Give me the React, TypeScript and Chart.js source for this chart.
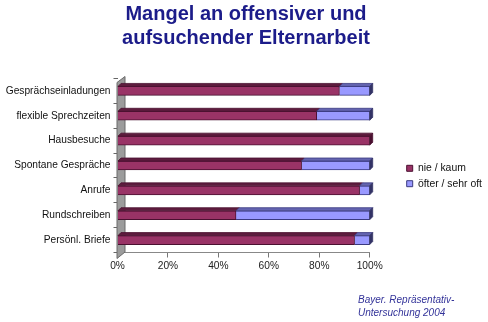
import React, { useEffect, useRef } from "react";
import { Chart, registerables } from "chart.js";

Chart.register(...registerables);

const titleLines = ["Mangel an offensiver und", "aufsuchender Elternarbeit"];
const categories = [
  "Gesprächseinladungen",
  "flexible Sprechzeiten",
  "Hausbesuche",
  "Spontane Gespräche",
  "Anrufe",
  "Rundschreiben",
  "Persönl. Briefe",
];
const seriesNames = ["nie / kaum", "öfter / sehr oft"];
const nieKaum = [88, 79, 100, 73, 96, 47, 94];
const oefter = [12, 21, 0, 27, 4, 53, 6];
const xTicks = [0, 20, 40, 60, 80, 100];
const sourceLines = ["Bayer. Repräsentativ-", "Untersuchung 2004"];

const FONT = "'Liberation Sans', Arial, Helvetica, sans-serif";

const frontColors = ["#993366", "#9999ff"];
const borderColors = ["#4a1030", "#3a3a80"];
const topColors = ["#5e1c3e", "#6464b0"];
const sideColors = ["#4a1030", "#333366"];

const wallPlugin = {
  id: "wall3d",
  beforeDatasetsDraw(chart: any) {
    const { ctx, chartArea } = chart;
    const l = chartArea.left;
    const t = chartArea.top;
    const b = chartArea.bottom;
    ctx.save();
    ctx.beginPath();
    ctx.moveTo(l - 0.5, t + 4);
    ctx.lineTo(l - 0.5, b + 6);
    ctx.lineTo(l + 7.5, b - 0.5);
    ctx.lineTo(l + 7.5, t - 2);
    ctx.closePath();
    ctx.fillStyle = "#9c9c9c";
    ctx.fill();
    ctx.strokeStyle = "#6a6a6a";
    ctx.lineWidth = 1;
    ctx.stroke();
    ctx.restore();
  },
};

const bar3dPlugin = {
  id: "bar3d",
  afterDatasetsDraw(chart: any) {
    const { ctx } = chart;
    const dx = 3;
    const dy = 3;
    const n = chart.data.datasets.length;
    const count = chart.data.labels.length;
    ctx.save();
    ctx.lineWidth = 0.8;
    for (let j = 0; j < count; j++) {
      let lastIdx = -1;
      for (let i = 0; i < n; i++) {
        const meta = chart.getDatasetMeta(i);
        const el = meta.data[j];
        if (!el) continue;
        const p = el.getProps(["x", "y", "base", "height"], true);
        const left = Math.min(p.x, p.base);
        const right = Math.max(p.x, p.base);
        if (right - left < 0.5) continue;
        lastIdx = i;
        const top = p.y - p.height / 2;
        ctx.beginPath();
        ctx.moveTo(left, top);
        ctx.lineTo(left + dx, top - dy);
        ctx.lineTo(right + dx, top - dy);
        ctx.lineTo(right, top);
        ctx.closePath();
        ctx.fillStyle = topColors[i];
        ctx.fill();
        ctx.strokeStyle = borderColors[i];
        ctx.stroke();
      }
      if (lastIdx >= 0) {
        const el = chart.getDatasetMeta(lastIdx).data[j];
        const p = el.getProps(["x", "y", "base", "height"], true);
        const right = Math.max(p.x, p.base);
        const top = p.y - p.height / 2;
        const bottom = p.y + p.height / 2;
        ctx.beginPath();
        ctx.moveTo(right, top);
        ctx.lineTo(right + dx, top - dy);
        ctx.lineTo(right + dx, bottom - dy);
        ctx.lineTo(right, bottom);
        ctx.closePath();
        ctx.fillStyle = sideColors[lastIdx];
        ctx.fill();
        ctx.strokeStyle = sideColors[lastIdx];
        ctx.stroke();
      }
    }
    ctx.restore();
  },
};

const sourcePlugin = {
  id: "sourceNote",
  afterDraw(chart: any) {
    const { ctx } = chart;
    ctx.save();
    ctx.font = `italic 10px ${FONT}`;
    ctx.fillStyle = "#333399";
    ctx.textBaseline = "middle";
    ctx.textAlign = "left";
    sourceLines.forEach((line, i) => {
      ctx.fillText(line, 358, 300.5 + i * 12.5);
    });
    ctx.restore();
  },
};

export default function App() {
  const canvasRef = useRef<HTMLCanvasElement | null>(null);

  useEffect(() => {
    if (!canvasRef.current) return;
    const chart = new Chart(canvasRef.current, {
      type: "bar",
      data: {
        labels: categories,
        datasets: [
          {
            label: seriesNames[0],
            data: nieKaum,
            backgroundColor: frontColors[0],
            borderColor: borderColors[0],
            borderWidth: 1,
            barThickness: 9,
          },
          {
            label: seriesNames[1],
            data: oefter,
            backgroundColor: frontColors[1],
            borderColor: borderColors[1],
            borderWidth: 1,
            barThickness: 9,
          },
        ],
      },
      options: {
        indexAxis: "y",
        animation: false,
        responsive: false,
        layout: { padding: { top: 0, bottom: 44.5, left: 0, right: -4 } },
        font: { family: FONT },
        scales: {
          x: {
            stacked: true,
            min: 0,
            max: 100,
            afterBuildTicks: (scale: any) => {
              scale.ticks = xTicks.map((v) => ({ value: v }));
            },
            afterFit: (scale: any) => {
              scale.height = 25;
            },
            ticks: {
              callback: (v: any) => `${v}%`,
              color: "#222",
              font: { family: FONT, size: 10.2 },
              padding: 3,
            },
            grid: {
              drawOnChartArea: false,
              drawTicks: true,
              tickLength: 5,
              color: "#777",
            },
            border: { display: true, color: "#888" },
          },
          y: {
            stacked: true,
            afterFit: (scale: any) => {
              scale.width = 117.5;
            },
            ticks: {
              color: "#111",
              font: { family: FONT, size: 10.2 },
              padding: 3,
            },
            grid: {
              offset: true,
              drawOnChartArea: false,
              drawTicks: true,
              tickLength: 4,
              color: "#666",
            },
            border: { display: false },
          },
          y2: {
            type: "category",
            position: "right",
            display: true,
            afterFit: (scale: any) => {
              scale.width = 32;
            },
            ticks: { display: false },
            grid: { display: false },
            border: { display: false },
          },
        },
        plugins: {
          title: {
            display: true,
            text: titleLines,
            color: "#1c1c8a",
            font: { family: FONT, size: 20, weight: "bold", lineHeight: 1.2 },
            padding: { top: 2.5, bottom: 28 },
          },
          legend: {
            position: "right",
            align: "center",
            fullSize: false,
            maxWidth: 94,
            title: {
              display: true,
              text: "",
              font: { size: 10, lineHeight: 1.2 },
              padding: { top: 9, bottom: 0 },
            },
            labels: {
              boxWidth: 6,
              boxHeight: 6,
              padding: 5,
              color: "#111",
              font: { family: FONT, size: 10.4 },
            },
          },
          tooltip: { enabled: false },
        },
      } as any,
      plugins: [wallPlugin, bar3dPlugin, sourcePlugin],
    });
    return () => chart.destroy();
  }, []);

  return (
    <div style={{ position: "absolute", left: 0, top: 0, width: 488, height: 322, background: "#fff" }}>
      <canvas ref={canvasRef} width={488} height={322} />
    </div>
  );
}
